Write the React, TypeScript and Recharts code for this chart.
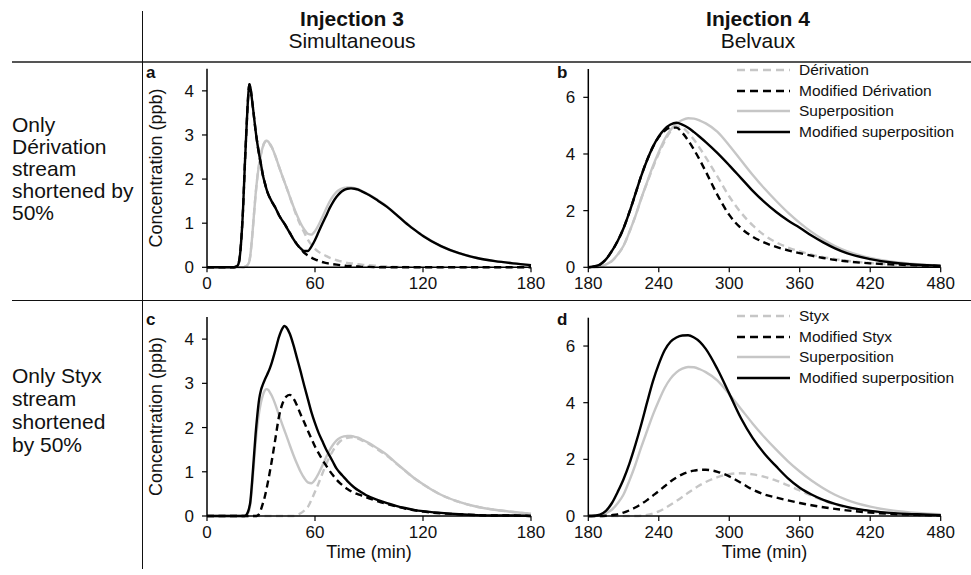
import React from 'react';
import { LineChart, Line, XAxis, YAxis, Legend } from 'recharts';

const FONT = '"Liberation Sans", Arial, Helvetica, sans-serif';
const GREY = '#c6c6c6';
const BLACK = '#000000';
const TEXT = '#111111';

// ---------- Injection 3 (panels a, c): time in minutes ----------
const timeInj3 = [0, 10, 15, 17, 18, 19, 20, 21, 22, 23, 23.5, 24, 25, 26, 27, 28, 29, 30, 31, 32, 33, 34, 35, 36, 38, 40, 42, 43, 44, 46, 48, 50, 52, 54, 56, 58, 60, 62, 64, 66, 68, 70, 72, 74, 76, 78, 80, 82, 84, 86, 88, 90, 95, 100, 105, 110, 115, 120, 130, 140, 150, 160, 170, 180];

const superposition3 = [0, 0, 0, 0, 0, 0, 0, 0.01, 0.03, 0.08, 0.13, 0.25, 0.65, 1.15, 1.65, 2.05, 2.35, 2.57, 2.73, 2.83, 2.87, 2.85, 2.79, 2.72, 2.52, 2.28, 2.05, 1.94, 1.83, 1.6, 1.38, 1.18, 1.0, 0.86, 0.76, 0.74, 0.82, 0.96, 1.13, 1.31, 1.48, 1.61, 1.71, 1.77, 1.8, 1.81, 1.81, 1.79, 1.77, 1.73, 1.69, 1.65, 1.52, 1.38, 1.2, 1.03, 0.86, 0.72, 0.48, 0.32, 0.21, 0.14, 0.09, 0.05];

const derivation3 = [0, 0, 0, 0, 0, 0, 0, 0.01, 0.03, 0.08, 0.13, 0.25, 0.65, 1.15, 1.65, 2.05, 2.35, 2.57, 2.73, 2.83, 2.87, 2.85, 2.79, 2.72, 2.52, 2.28, 2.05, 1.94, 1.83, 1.6, 1.36, 1.14, 0.95, 0.79, 0.63, 0.51, 0.42, 0.35, 0.3, 0.26, 0.22, 0.19, 0.16, 0.14, 0.12, 0.1, 0.09, 0.08, 0.07, 0.06, 0.05, 0.05, 0.03, 0.02, 0.01, 0.01, 0, 0, 0, 0, 0, 0, 0, 0];

const modifiedSuperposition3a = [0, 0, 0, 0.04, 0.17, 0.6, 1.3, 2.3, 3.2, 3.95, 4.15, 4.1, 3.8, 3.45, 3.1, 2.8, 2.55, 2.33, 2.1, 1.93, 1.78, 1.66, 1.57, 1.49, 1.35, 1.18, 1.05, 0.99, 0.92, 0.78, 0.64, 0.52, 0.43, 0.37, 0.37, 0.47, 0.62, 0.8, 0.98, 1.15, 1.33, 1.48, 1.6, 1.69, 1.75, 1.78, 1.79, 1.78, 1.76, 1.72, 1.68, 1.64, 1.51, 1.37, 1.2, 1.02, 0.86, 0.71, 0.48, 0.32, 0.21, 0.14, 0.09, 0.05];

const modifiedDerivation3 = [0, 0, 0, 0.04, 0.17, 0.6, 1.3, 2.3, 3.2, 3.95, 4.15, 4.1, 3.8, 3.45, 3.1, 2.8, 2.55, 2.33, 2.1, 1.93, 1.78, 1.66, 1.57, 1.49, 1.35, 1.18, 1.05, 0.99, 0.92, 0.78, 0.64, 0.52, 0.42, 0.33, 0.27, 0.22, 0.18, 0.15, 0.12, 0.1, 0.08, 0.07, 0.06, 0.05, 0.04, 0.03, 0.03, 0.02, 0.02, 0.01, 0.01, 0.01, 0, 0, 0, 0, 0, 0, 0, 0, 0, 0, 0, 0];

const styx3 = [0, 0, 0, 0, 0, 0, 0, 0, 0, 0, 0, 0, 0, 0, 0, 0, 0, 0, 0, 0, 0, 0, 0, 0, 0, 0, 0, 0, 0, 0, 0, 0.02, 0.06, 0.12, 0.2, 0.36, 0.55, 0.74, 0.95, 1.15, 1.33, 1.48, 1.6, 1.69, 1.74, 1.77, 1.78, 1.77, 1.75, 1.71, 1.67, 1.63, 1.5, 1.36, 1.19, 1.02, 0.86, 0.72, 0.48, 0.32, 0.21, 0.14, 0.09, 0.05];

const modifiedStyx3 = [0, 0, 0, 0, 0, 0, 0, 0, 0, 0, 0, 0, 0, 0, 0, 0.01, 0.05, 0.15, 0.28, 0.42, 0.6, 0.8, 1.02, 1.25, 1.75, 2.25, 2.55, 2.64, 2.7, 2.74, 2.66, 2.5, 2.3, 2.12, 1.93, 1.75, 1.57, 1.42, 1.28, 1.15, 1.03, 0.92, 0.82, 0.74, 0.67, 0.61, 0.56, 0.52, 0.49, 0.46, 0.43, 0.4, 0.33, 0.27, 0.22, 0.17, 0.13, 0.1, 0.06, 0.04, 0.02, 0.01, 0.01, 0];

const modifiedSuperposition3c = [0, 0, 0, 0, 0, 0, 0, 0, 0.03, 0.12, 0.2, 0.3, 0.75, 1.3, 1.85, 2.3, 2.65, 2.85, 2.97, 3.07, 3.16, 3.25, 3.35, 3.47, 3.75, 4.05, 4.25, 4.3, 4.27, 4.12, 3.87, 3.57, 3.27, 2.95, 2.65, 2.35, 2.1, 1.88, 1.7, 1.52, 1.37, 1.22, 1.07, 0.97, 0.88, 0.79, 0.71, 0.64, 0.58, 0.53, 0.48, 0.44, 0.36, 0.29, 0.23, 0.18, 0.14, 0.11, 0.07, 0.04, 0.02, 0.01, 0.01, 0];

// ---------- Injection 4 (panels b, d): time in minutes ----------
const timeInj4 = [180, 185, 190, 195, 200, 205, 210, 215, 220, 225, 230, 235, 240, 245, 250, 255, 260, 265, 270, 275, 280, 290, 300, 310, 320, 330, 340, 350, 360, 370, 380, 390, 400, 420, 440, 460, 480];

const superposition4 = [0, 0, 0.02, 0.1, 0.22, 0.45, 0.76, 1.25, 1.8, 2.42, 3.0, 3.57, 4.07, 4.52, 4.85, 5.07, 5.2, 5.26, 5.25, 5.18, 5.08, 4.78, 4.3, 3.78, 3.26, 2.78, 2.34, 1.93, 1.57, 1.25, 0.98, 0.75, 0.57, 0.33, 0.19, 0.11, 0.06];

const derivation4 = [0, 0, 0.02, 0.1, 0.22, 0.45, 0.76, 1.25, 1.8, 2.42, 2.98, 3.52, 4.02, 4.45, 4.8, 4.97, 4.93, 4.75, 4.5, 4.2, 3.88, 3.2, 2.5, 1.93, 1.48, 1.13, 0.88, 0.7, 0.56, 0.45, 0.36, 0.29, 0.23, 0.15, 0.1, 0.07, 0.05];

const modifiedSuperposition4b = [0, 0.03, 0.1, 0.28, 0.57, 0.93, 1.38, 1.95, 2.58, 3.22, 3.78, 4.25, 4.62, 4.88, 5.04, 5.1, 5.04, 4.93, 4.77, 4.6, 4.42, 4.03, 3.6, 3.15, 2.7, 2.3, 1.95, 1.65, 1.4, 1.12, 0.88, 0.67, 0.5, 0.29, 0.16, 0.09, 0.05];

const modifiedDerivation4 = [0, 0.03, 0.1, 0.28, 0.57, 0.93, 1.38, 1.95, 2.58, 3.22, 3.78, 4.25, 4.6, 4.82, 4.93, 4.93, 4.75, 4.48, 4.15, 3.78, 3.38, 2.55, 1.85, 1.38, 1.08, 0.87, 0.72, 0.6, 0.5, 0.41, 0.33, 0.26, 0.21, 0.14, 0.1, 0.07, 0.05];

const styx4 = [0, 0, 0, 0, 0, 0, 0, 0, 0, 0.01, 0.04, 0.09, 0.16, 0.27, 0.4, 0.53, 0.67, 0.82, 0.96, 1.09, 1.2, 1.37, 1.48, 1.51, 1.47, 1.38, 1.25, 1.08, 0.9, 0.72, 0.55, 0.41, 0.3, 0.16, 0.08, 0.04, 0.02];

const modifiedStyx4 = [0, 0, 0, 0.01, 0.03, 0.06, 0.12, 0.2, 0.3, 0.42, 0.56, 0.72, 0.88, 1.05, 1.22, 1.36, 1.47, 1.55, 1.6, 1.63, 1.63, 1.56, 1.4, 1.17, 0.93, 0.76, 0.65, 0.55, 0.46, 0.38, 0.31, 0.25, 0.2, 0.12, 0.07, 0.04, 0.02];

const modifiedSuperposition4d = [0, 0.01, 0.05, 0.18, 0.45, 0.85, 1.3, 1.85, 2.5, 3.22, 4.0, 4.75, 5.36, 5.85, 6.15, 6.3, 6.37, 6.38, 6.3, 6.15, 5.9, 5.18, 4.32, 3.45, 2.75, 2.2, 1.75, 1.33, 1.0, 0.76, 0.57, 0.43, 0.32, 0.18, 0.1, 0.06, 0.03];

// ---------- ticks & labels ----------
const xTicksInj3 = [0, 60, 120, 180];
const xTicksInj4 = [180, 240, 300, 360, 420, 480];
const yTicksInj3 = [0, 1, 2, 3, 4];
const yTicksInj4 = [0, 2, 4, 6];

const legendNamesB = ['Dérivation', 'Modified Dérivation', 'Superposition', 'Modified superposition'];
const legendNamesD = ['Styx', 'Modified Styx', 'Superposition', 'Modified superposition'];

const rowLabelTop = ['Only', 'Dérivation', 'stream', 'shortened by', '50%'];
const rowLabelBottom = ['Only Styx', 'stream', 'shortened', 'by 50%'];

// series styles (order = legend order)
const seriesStyles = [
  { key: 'comp', color: GREY, dashed: true },
  { key: 'modComp', color: BLACK, dashed: true },
  { key: 'sup', color: GREY, dashed: false },
  { key: 'modSup', color: BLACK, dashed: false },
];
const drawOrder = ['comp', 'sup', 'modComp', 'modSup'];

const dataA = timeInj3.map((t, i) => ({ t, comp: derivation3[i], modComp: modifiedDerivation3[i], sup: superposition3[i], modSup: modifiedSuperposition3a[i] }));
const dataC = timeInj3.map((t, i) => ({ t, comp: styx3[i], modComp: modifiedStyx3[i], sup: superposition3[i], modSup: modifiedSuperposition3c[i] }));
const dataB = timeInj4.map((t, i) => ({ t, comp: derivation4[i], modComp: modifiedDerivation4[i], sup: superposition4[i], modSup: modifiedSuperposition4b[i] }));
const dataD = timeInj4.map((t, i) => ({ t, comp: styx4[i], modComp: modifiedStyx4[i], sup: superposition4[i], modSup: modifiedSuperposition4d[i] }));

function LegendBox({ names }: { names: string[] }) {
  return (
    <div style={{ fontFamily: FONT, fontSize: 15.5, color: TEXT }}>
      {seriesStyles.map((s, i) => (
        <div key={s.key} style={{ display: 'flex', alignItems: 'center', height: 20.6 }}>
          <svg width={53} height={6} style={{ marginRight: 9, flex: 'none', display: 'block' }}>
            <line x1={0} y1={3} x2={53} y2={3} stroke={s.color} strokeWidth={2.5} strokeDasharray={s.dashed ? '8 5' : undefined} />
          </svg>
          <span style={{ whiteSpace: 'nowrap', lineHeight: '20px' }}>{names[i]}</span>
        </div>
      ))}
    </div>
  );
}

type PanelProps = {
  left: number;
  top: number;
  width: number;
  height: number;
  margin: { top: number; right: number; bottom: number; left: number };
  yWidth: number;
  xHeight: number;
  data: any[];
  xDomain: [number, number];
  xTicks: number[];
  yDomain: [number, number];
  yTicks: number[];
  yLabel?: boolean;
  xLabel?: boolean;
  legendNames?: string[];
  legendLeft?: number;
  legendTop?: number;
};

const tickStyle = { fill: TEXT, fontSize: 17, fontFamily: FONT };

function Panel(p: PanelProps) {
  return (
    <div style={{ position: 'absolute', left: p.left, top: p.top }}>
      <LineChart width={p.width} height={p.height} data={p.data} margin={p.margin}>
        <XAxis
          type="number"
          dataKey="t"
          domain={p.xDomain}
          ticks={p.xTicks}
          interval={0}
          height={p.xHeight}
          tick={tickStyle}
          tickSize={5}
          tickMargin={5}
          axisLine={{ stroke: BLACK, strokeWidth: 1.5 }}
          tickLine={{ stroke: BLACK, strokeWidth: 1.2 }}
          label={
            p.xLabel
              ? { value: 'Time (min)', position: 'insideBottom', offset: 17, style: { fill: TEXT, fontSize: 18, fontFamily: FONT, textAnchor: 'middle' } }
              : undefined
          }
        />
        <YAxis
          type="number"
          domain={p.yDomain}
          ticks={p.yTicks}
          interval={0}
          width={p.yWidth}
          tick={tickStyle}
          tickSize={5}
          tickMargin={8}
          axisLine={{ stroke: BLACK, strokeWidth: 1.5 }}
          tickLine={{ stroke: BLACK, strokeWidth: 1.2 }}
          label={
            p.yLabel
              ? { value: 'Concentration (ppb)', angle: -90, position: 'insideLeft', offset: 13, style: { fill: TEXT, fontSize: 18, fontFamily: FONT, textAnchor: 'middle' } }
              : undefined
          }
        />
        {p.legendNames && (
          <Legend
            layout="vertical"
            align="center"
            verticalAlign="middle"
            content={() => <LegendBox names={p.legendNames as string[]} />}
            wrapperStyle={{ position: 'absolute', left: p.legendLeft, top: p.legendTop, width: 230, height: 84 }}
          />
        )}
        {drawOrder.map((k) => {
          const s = seriesStyles.find((x) => x.key === k)!;
          return (
            <Line
              key={k}
              type="monotone"
              dataKey={k}
              stroke={s.color}
              strokeWidth={2.4}
              strokeDasharray={s.dashed ? '7 4.5' : undefined}
              dot={false}
              activeDot={false}
              isAnimationActive={false}
            />
          );
        })}
      </LineChart>
    </div>
  );
}

const abs = (style: React.CSSProperties): React.CSSProperties => ({ position: 'absolute', ...style });

export default function App() {
  return (
    <div style={{ position: 'absolute', left: 0, top: 0, width: 971, height: 575, background: '#fff', fontFamily: FONT, color: TEXT, overflow: 'hidden' }}>
      {/* frame lines */}
      <div style={abs({ left: 12, top: 61, width: 959, height: 2, background: '#555' })} />
      <div style={abs({ left: 12, top: 300, width: 959, height: 1, background: '#111' })} />
      <div style={abs({ left: 142, top: 11, width: 1, height: 558, background: '#111' })} />

      {/* column headers */}
      <div style={abs({ left: 252, top: 8, width: 200, textAlign: 'center', fontSize: 21, lineHeight: '22px' })}>
        <div style={{ fontWeight: 'bold' }}>Injection 3</div>
        <div>Simultaneous</div>
      </div>
      <div style={abs({ left: 658, top: 8, width: 200, textAlign: 'center', fontSize: 21, lineHeight: '22px' })}>
        <div style={{ fontWeight: 'bold' }}>Injection 4</div>
        <div>Belvaux</div>
      </div>

      {/* row labels */}
      <div style={abs({ left: 12, top: 114, fontSize: 21, lineHeight: '22px', whiteSpace: 'nowrap' })}>
        {rowLabelTop.map((s) => (
          <div key={s}>{s}</div>
        ))}
      </div>
      <div style={abs({ left: 12, top: 364, fontSize: 21, lineHeight: '23px', whiteSpace: 'nowrap' })}>
        {rowLabelBottom.map((s) => (
          <div key={s}>{s}</div>
        ))}
      </div>

      <Panel left={143} top={62} width={407} height={238} margin={{ top: 6.8, right: 19, bottom: 2.7, left: 0 }} yWidth={64} xHeight={30}
        data={dataA} xDomain={[0, 180]} xTicks={xTicksInj3} yDomain={[0, 4.5]} yTicks={yTicksInj3} yLabel />
      <Panel left={550} top={62} width={421} height={238} margin={{ top: 7, right: 30.3, bottom: 2.7, left: 0 }} yWidth={38.3} xHeight={30}
        data={dataB} xDomain={[180, 480]} xTicks={xTicksInj4} yDomain={[0, 7]} yTicks={yTicksInj4}
        legendNames={legendNamesB} legendLeft={187} legendTop={-2.3} />
      <Panel left={143} top={302} width={407} height={273} margin={{ top: 15, right: 19, bottom: 0, left: 0 }} yWidth={64} xHeight={59}
        data={dataC} xDomain={[0, 180]} xTicks={xTicksInj3} yDomain={[0, 4.5]} yTicks={yTicksInj3} yLabel xLabel />
      <Panel left={550} top={302} width={421} height={273} margin={{ top: 15.7, right: 30.3, bottom: 0, left: 0 }} yWidth={38.3} xHeight={59}
        data={dataD} xDomain={[180, 480]} xTicks={xTicksInj4} yDomain={[0, 7]} yTicks={yTicksInj4} xLabel
        legendNames={legendNamesD} legendLeft={187} legendTop={3.7} />

      {/* panel letters */}
      <div style={abs({ left: 146, top: 64, fontSize: 17, lineHeight: '17px', fontWeight: 'bold' })}>a</div>
      <div style={abs({ left: 557, top: 64, fontSize: 17, lineHeight: '17px', fontWeight: 'bold' })}>b</div>
      <div style={abs({ left: 146, top: 311, fontSize: 17, lineHeight: '17px', fontWeight: 'bold' })}>c</div>
      <div style={abs({ left: 557, top: 311, fontSize: 17, lineHeight: '17px', fontWeight: 'bold' })}>d</div>
    </div>
  );
}
